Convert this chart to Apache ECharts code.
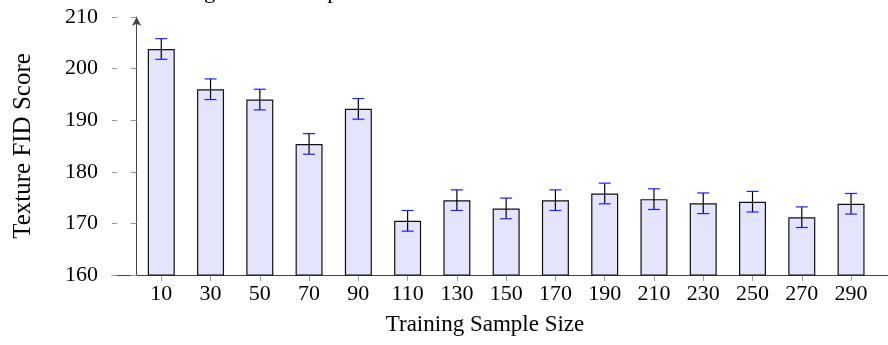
<!DOCTYPE html>
<html>
<head>
<meta charset="utf-8">
<script src="https://cdn.jsdelivr.net/npm/echarts@6/dist/echarts.min.js"></script>
<style>
html,body{margin:0;padding:0;background:#fff;}
#chart{width:888px;height:345px;}
</style>
</head>
<body>
<div id="chart"></div>
<script>
const sampleSizes = [10, 30, 50, 70, 90, 110, 130, 150, 170, 190, 210, 230, 250, 270, 290];
const fidScores = [203.8, 196.0, 194.0, 185.4, 192.2, 170.5, 174.5, 172.9, 174.5, 175.8, 174.7, 173.9, 174.2, 171.2, 173.8];
const fidErrors = [2.0, 2.0, 2.0, 2.0, 2.0, 2.0, 2.0, 2.0, 2.0, 2.0, 2.0, 2.0, 2.0, 2.0, 2.0];
const yTicks = [160, 170, 180, 190, 200, 210];

const FONT = '"Liberation Serif", "DejaVu Serif", serif';
const barData = sampleSizes.map((s, i) => [s, fidScores[i]]);
const errData = sampleSizes.map((s, i) => [s, fidScores[i], fidErrors[i]]);

const chart = echarts.init(document.getElementById('chart'), null, {renderer: 'canvas'});
chart.setOption({
  animation: false,
  backgroundColor: '#ffffff',
  title: {
    text: 'Training Set Size Impact on Texture FID',
    left: 132,
    top: -25,
    textStyle: {fontFamily: FONT, fontSize: 23, fontWeight: 'normal', color: '#000'}
  },
  grid: {left: 112, right: 0, top: 17, bottom: 70, containLabel: false},
  xAxis: {
    type: 'value',
    min: -10,
    max: 305,
    interval: 20,
    name: 'Training Sample Size',
    nameLocation: 'middle',
    nameGap: 38,
    nameTextStyle: {fontFamily: FONT, fontSize: 23, color: '#000', padding: [0, 30, 0, 0]},
    axisLine: {show: true, onZero: false, lineStyle: {color: '#444', width: 1}},
    axisTick: {show: true, inside: false, length: 6, lineStyle: {color: '#999', width: 1}},
    axisLabel: {
      show: true, margin: 8, showMinLabel: false, showMaxLabel: false,
      fontFamily: FONT, fontSize: 22, color: '#000',
      formatter: v => (sampleSizes.indexOf(v) >= 0 ? String(v) : '')
    },
    splitLine: {show: false}
  },
  yAxis: [{
    type: 'value',
    min: yTicks[0],
    max: yTicks[yTicks.length - 1],
    interval: 10,
    name: 'Texture FID Score',
    nameLocation: 'middle',
    nameGap: 76,
    nameTextStyle: {fontFamily: FONT, fontSize: 25, color: '#000'},
    axisLine: {show: true, symbol: ['none', 'arrow'], symbolSize: [7, 9], lineStyle: {color: '#444', width: 1}},
    axisTick: {show: true, inside: false, length: 6, lineStyle: {color: '#999', width: 1}},
    axisLabel: {show: true, margin: 14, fontFamily: FONT, fontSize: 22, color: '#000'},
    splitLine: {show: false}
  }, {
    type: 'value',
    position: 'left',
    min: yTicks[0],
    max: yTicks[yTicks.length - 1],
    interval: 10,
    axisLine: {show: false},
    axisTick: {show: true, inside: true, length: 5, lineStyle: {color: '#999', width: 1}},
    axisLabel: {show: false},
    splitLine: {show: false}
  }],
  series: [{
    type: 'bar',
    data: barData,
    barWidth: 27,
    yAxisIndex: 0,
    itemStyle: {color: '#e4e4fc', borderColor: '#111', borderWidth: 1.2},
    z: 2
  }, {
    type: 'custom',
    data: errData,
    yAxisIndex: 0,
    z: 5,
    renderItem: function (params, api) {
      const x = api.value(0), y = api.value(1), e = api.value(2);
      const top = api.coord([x, y + e]);
      const bot = api.coord([x, y - e]);
      const hw = 6;
      return {
        type: 'group',
        children: [
          {type: 'line', shape: {x1: top[0], y1: top[1], x2: bot[0], y2: bot[1]}, style: {stroke: '#000', lineWidth: 1.2}},
          {type: 'line', shape: {x1: top[0] - hw, y1: top[1], x2: top[0] + hw, y2: top[1]}, style: {stroke: '#2020ff', lineWidth: 1.2}},
          {type: 'line', shape: {x1: bot[0] - hw, y1: bot[1], x2: bot[0] + hw, y2: bot[1]}, style: {stroke: '#2020ff', lineWidth: 1.2}}
        ]
      };
    }
  }]
});
</script>
</body>
</html>
